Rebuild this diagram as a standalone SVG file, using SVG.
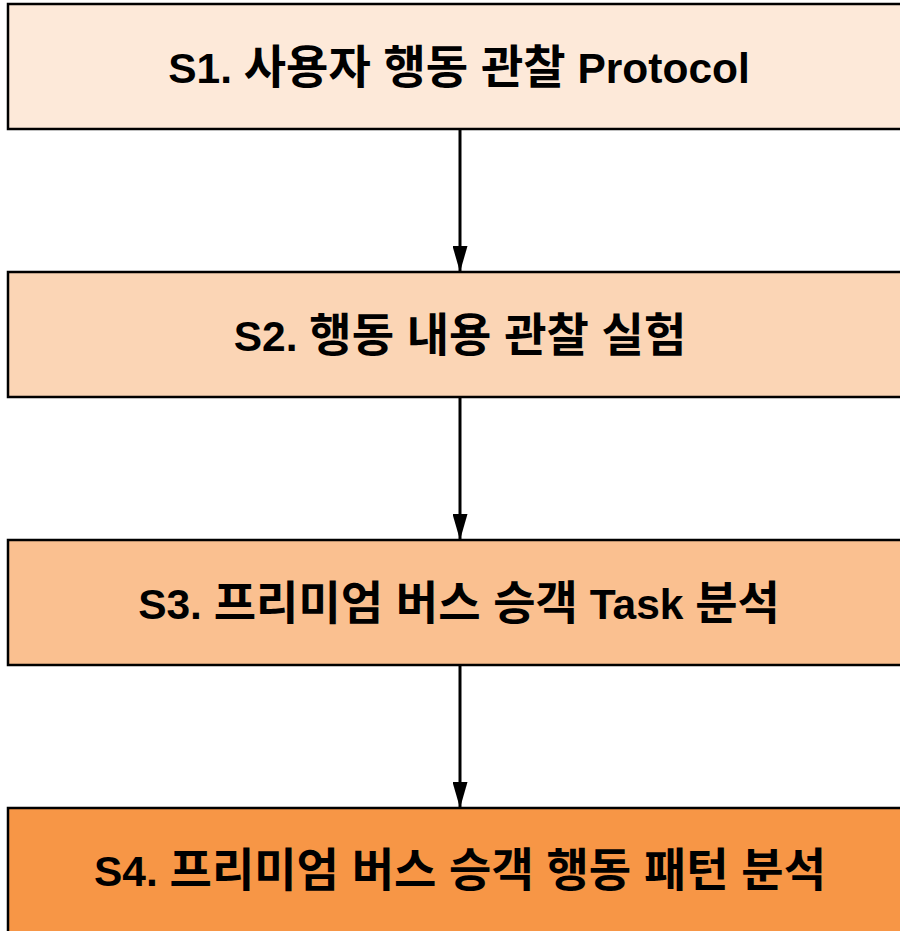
<svg xmlns="http://www.w3.org/2000/svg" width="900" height="931" viewBox="0 0 900 931">
<defs>
<marker id="ah" markerUnits="userSpaceOnUse" markerWidth="26" markerHeight="15" refX="26" refY="7.5" orient="auto" viewBox="0 0 26 15">
<path d="M0,0 L26,7.5 L0,15 Z" fill="#000"/>
</marker>
</defs>
<style>
.box{stroke:#000;stroke-width:2.5}
.lbl{font-family:"Liberation Sans","Noto Sans CJK KR",Arial,sans-serif;font-weight:bold;font-size:42.5px;fill:#000;text-anchor:middle}
.k{font-size:46px}
.con{stroke:#000;stroke-width:3;fill:none}
</style>
<rect width="900" height="931" fill="#fff"/>
<g id="connectors">
<line class="con" x1="460" y1="129" x2="460" y2="272" marker-end="url(#ah)"/>
<line class="con" x1="460" y1="397" x2="460" y2="540" marker-end="url(#ah)"/>
<line class="con" x1="460" y1="665" x2="460" y2="808" marker-end="url(#ah)"/>
</g>
<g id="s1">
<rect class="box" x="8" y="4" width="910" height="125" fill="#FDE9D9"/>
<text class="lbl" x="459" y="83">S1. <tspan class="k">사용자 행동 관찰</tspan> Protocol</text>
</g>
<g id="s2">
<rect class="box" x="8" y="272" width="910" height="125" fill="#FBD5B5"/>
<text class="lbl" x="460" y="351">S2. <tspan class="k">행동 내용 관찰 실험</tspan></text>
</g>
<g id="s3">
<rect class="box" x="8" y="540" width="910" height="125" fill="#FAC090"/>
<text class="lbl" x="459" y="619">S3. <tspan class="k">프리미엄 버스 승객</tspan> Task <tspan class="k">분석</tspan></text>
</g>
<g id="s4">
<rect class="box" x="8" y="808" width="910" height="140" fill="#F79646"/>
<text class="lbl" x="460" y="886">S4. <tspan class="k">프리미엄 버스 승객 행동 패턴 분석</tspan></text>
</g>
</svg>
